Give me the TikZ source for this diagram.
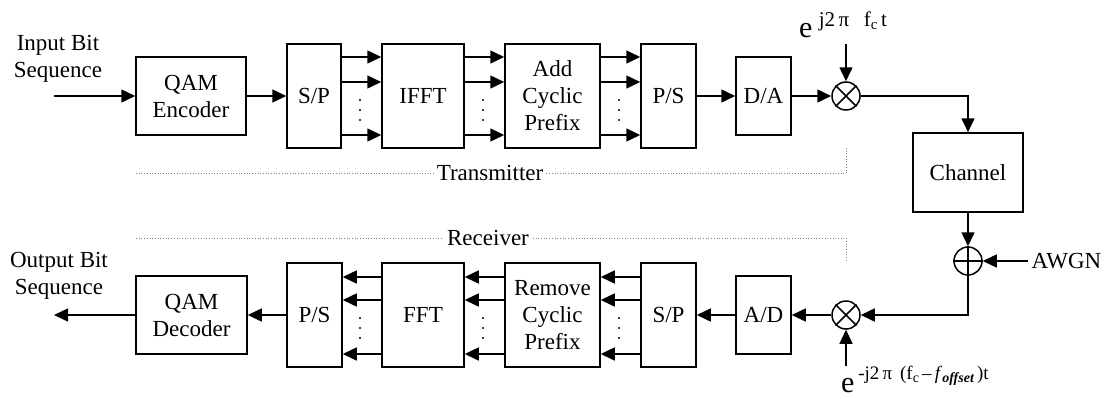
\documentclass[tikz,border=0pt]{standalone}
\usepackage{fontspec}
\setmainfont{Liberation Serif}
\usetikzlibrary{arrows.meta}
\begin{document}
\begin{tikzpicture}[x=1pt,y=-1pt,
  every node/.style={font=\fontsize{23}{27}\selectfont},
  blk/.style={draw, line width=1.5pt, align=center, inner sep=0pt},
  arr/.style={line width=1.5pt, -{Triangle[length=14pt,width=13pt]}},
  ln/.style={line width=1.5pt},
  mixer/.style={draw, circle, line width=1.5pt, minimum size=28pt, inner sep=0pt},
  sep/.style={dotted, gray, line width=0.7pt},
  dotmark/.style={fill=black}]
\useasboundingbox[fill=white] (0,0) rectangle (1114,399);

% transmitter row
\node[blk, minimum width=110pt, minimum height=78pt] (qamE) at (191,96) {QAM\\Encoder};
\node[blk, minimum width=54pt, minimum height=104pt] (spT) at (314,96) {S/P};
\node[blk, minimum width=82pt, minimum height=104pt] (ifft) at (423,96) {IFFT};
\node[blk, minimum width=95pt, minimum height=104pt] (acp) at (552.5,96) {Add\\Cyclic\\Prefix};
\node[blk, minimum width=55pt, minimum height=104pt] (psT) at (668.5,96) {P/S};
\node[blk, minimum width=55pt, minimum height=78pt] (da) at (763.5,96) {D/A};
\node[mixer] (mix1) at (846,96) {};
\draw[ln] (mix1.45) -- (mix1.225) (mix1.135) -- (mix1.315);

% channel and noise
\node[blk, minimum width=110pt, minimum height=79pt] (chan) at (968,172.5) {Channel};
\node[mixer] (add) at (968,261) {};
\draw[ln] (add.north) -- (add.south) (add.east) -- (add.west);
\node[anchor=west] (awgn) at (1028,261) {AWGN};

% receiver row
\node[mixer] (mix2) at (846,315) {};
\draw[ln] (mix2.45) -- (mix2.225) (mix2.135) -- (mix2.315);
\node[blk, minimum width=55pt, minimum height=78pt] (ad) at (763.5,315) {A/D};
\node[blk, minimum width=55pt, minimum height=104pt] (spR) at (668.5,315) {S/P};
\node[blk, minimum width=95pt, minimum height=104pt] (rcp) at (552.5,315) {Remove\\Cyclic\\Prefix};
\node[blk, minimum width=82pt, minimum height=104pt] (fft) at (423,315) {FFT};
\node[blk, minimum width=55pt, minimum height=104pt] (psR) at (314.5,315) {P/S};
\node[blk, minimum width=111pt, minimum height=78pt] (qamD) at (191.5,315) {QAM\\Decoder};

% labels
\node[align=center] (inlbl) at (58,59) {Input Bit\\Sequence};
\node[align=center] (outlbl) at (59,276) {Output Bit\\Sequence};
\coordinate (inp) at (54,96);
\coordinate (outp) at (54,315);
\coordinate (lo1) at (846,44);
\coordinate (lo2) at (846,366);
\node[anchor=base west, inner sep=0pt] (exp1) at (799,37)
  {{\fontsize{30}{30}\selectfont e}\;\raisebox{11pt}{\fontsize{21}{21}\selectfont j2\,π\;\, f\raisebox{-3pt}{\fontsize{15}{15}\selectfont c}\,t}};
\node[anchor=base west, inner sep=0pt] (exp2) at (841,392)
  {{\fontsize{30}{30}\selectfont e}\,\raisebox{13pt}{\fontsize{19}{19}\selectfont -j2\,π\, (f\raisebox{-3pt}{\fontsize{14}{14}\selectfont c}\,–\,\textit{f}\raisebox{-3pt}{\fontsize{14}{14}\selectfont\bfseries\itshape offset}\,)t}};

% separators
\draw[sep] (136,173) -- (846,173) -- (846,147);
\draw[sep] (136,238) -- (846,238) -- (846,262);
\node[fill=white, inner sep=3pt] (txl) at (490,173) {Transmitter};
\node[fill=white, inner sep=3pt] (rxl) at (488,238) {Receiver};

% transmitter connections
\draw[arr] (inp) -- (qamE.west);
\draw[arr] (qamE.east) -- (spT.west);
\foreach \a/\b in {spT/ifft, ifft/acp, acp/psT}{
  \foreach \d in {39,14,-39}{
    \draw[arr] ([yshift=\d pt]\a.east) -- ([yshift=\d pt]\b.west);
  }
}
\draw[arr] (psT.east) -- (da.west);
\draw[arr] (da.east) -- (mix1.west);
\draw[arr] (lo1) -- (mix1.north);
\draw[arr] (mix1.east) -| (chan.north);
\draw[arr] (chan.south) -- (add.north);
\draw[arr] (awgn.west) -- (add.east);
\draw[arr] (add.south) |- (mix2.east);
\draw[arr] (lo2) -- (mix2.south);
\draw[arr] (mix2.west) -- (ad.east);
\draw[arr] (ad.west) -- (spR.east);
\foreach \a/\b in {spR/rcp, rcp/fft, fft/psR}{
  \foreach \d in {38,15,-39}{
    \draw[arr] ([yshift=\d pt]\a.west) -- ([yshift=\d pt]\b.east);
  }
}
\draw[arr] (psR.west) -- (qamD.east);
\draw[arr] (qamD.west) -- (outp);

% ellipsis dots
\foreach \x in {360,483,619}{
  \foreach \y in {100,110,120}{ \fill (\x,\y) circle (1.1pt); }
  \foreach \y in {318,328,338}{ \fill (\x,\y) circle (1.1pt); }
}
\end{tikzpicture}
\end{document}
